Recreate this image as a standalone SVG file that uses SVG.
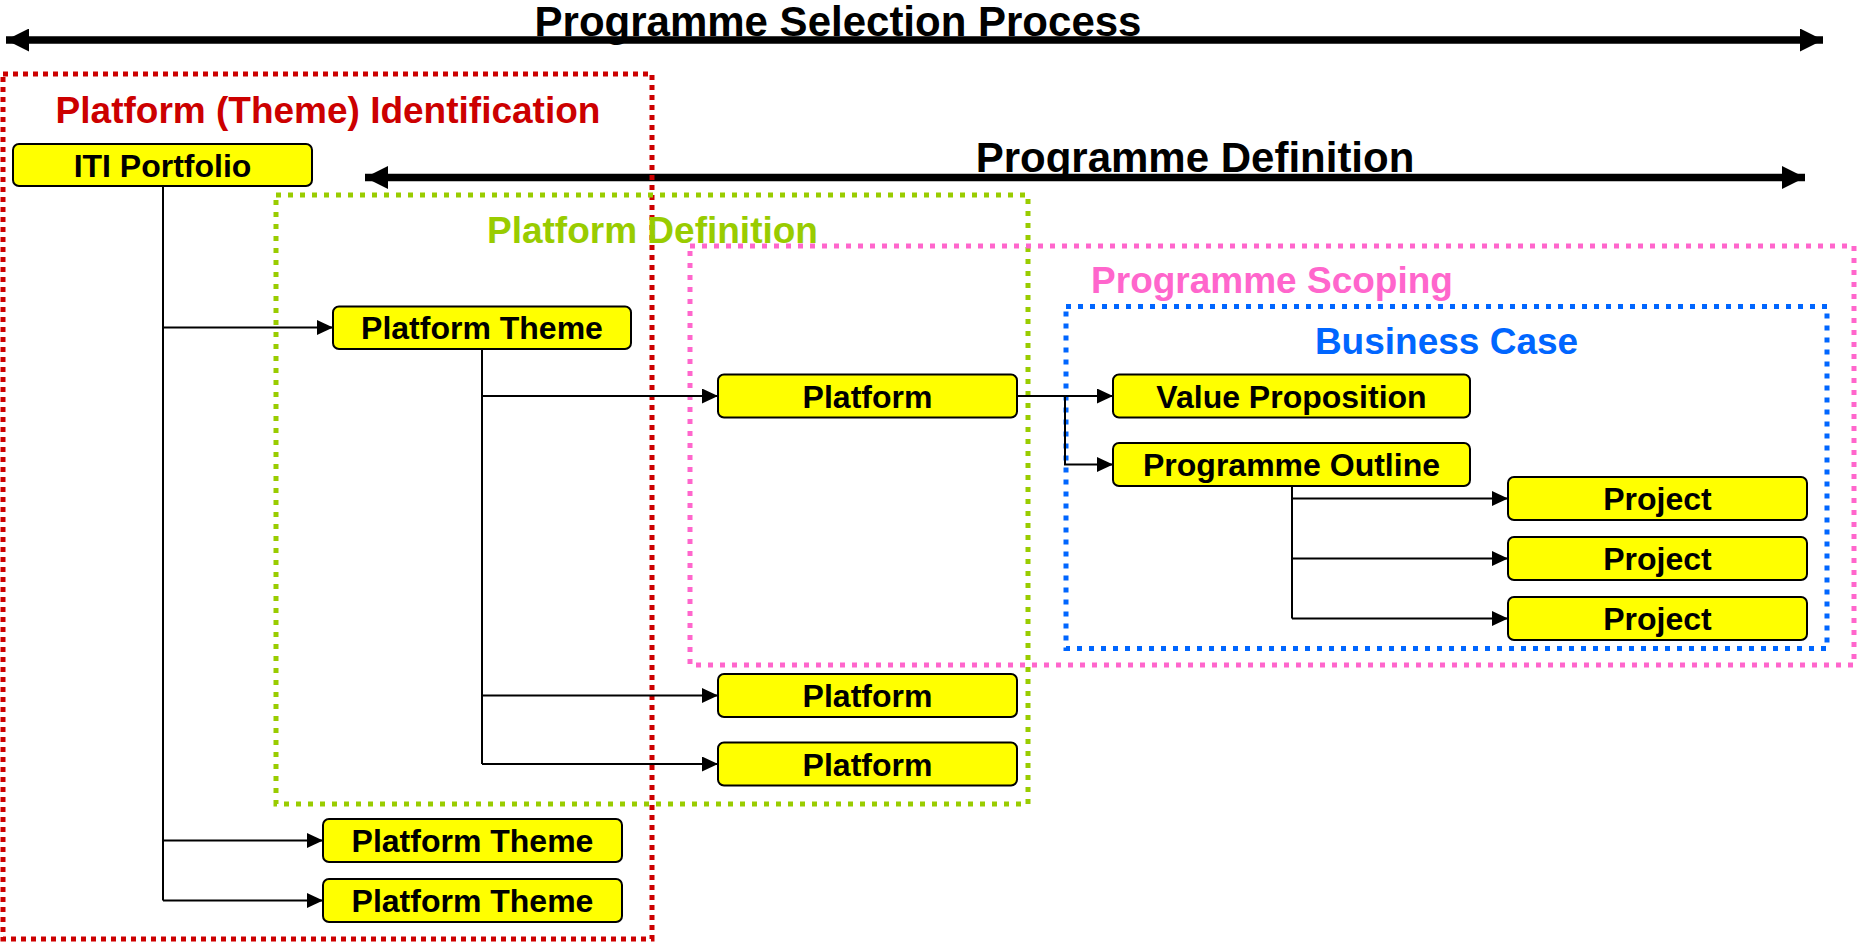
<svg xmlns="http://www.w3.org/2000/svg" width="1858" height="945" viewBox="0 0 1858 945">
  <style>
    text { font-family: "Liberation Sans", Arial, sans-serif; font-weight: bold; }
    .phase { font-size: 42px; fill: #000000; text-anchor: middle; }
    .ctitle { font-size: 37px; text-anchor: middle; }
    .zone { fill: none; stroke-width: 5; }
    .node rect { fill: #FFFF00; stroke: #000000; stroke-width: 2; }
    .node text { font-size: 32px; fill: #000000; text-anchor: middle; }
    .link { fill: none; stroke: #000000; stroke-width: 2; }
    .span { stroke: #000000; stroke-width: 7.5; }
  </style>
  <defs>
    <marker id="tip" markerUnits="userSpaceOnUse" markerWidth="16" markerHeight="15" refX="16" refY="7.5" orient="auto">
      <path d="M0,0 L16,7.5 L0,15 Z" fill="#000000"/>
    </marker>
    <marker id="bigtip" markerUnits="userSpaceOnUse" markerWidth="23" markerHeight="23" refX="23" refY="11.5" orient="auto-start-reverse">
      <path d="M0,0 L23,11.5 L0,23 Z" fill="#000000"/>
    </marker>
  </defs>

  <!-- phase spans -->
  <g id="phase-spans">
    <line class="span" x1="6" y1="40" x2="1823" y2="40" marker-start="url(#bigtip)" marker-end="url(#bigtip)"/>
    <text class="phase" x="838" y="36">Programme Selection Process</text>
    <line class="span" x1="365" y1="177.5" x2="1805" y2="177.5" marker-start="url(#bigtip)" marker-end="url(#bigtip)"/>
    <text class="phase" x="1195" y="172">Programme Definition</text>
  </g>

  <!-- stage boundaries -->
  <g id="zones">
    <rect id="zone-identification" class="zone" x="3" y="74" width="649" height="865" stroke="#CC0000" stroke-dasharray="5 5"/>
    <rect id="zone-definition" class="zone" x="276" y="195" width="752" height="609" stroke="#99CC00" stroke-dasharray="5 7"/>
    <rect id="zone-scoping" class="zone" x="690" y="246" width="1164" height="419" stroke="#FF66CC" stroke-dasharray="5 7"/>
    <rect id="zone-business" class="zone" x="1066" y="306.5" width="761" height="342" stroke="#0066FF" stroke-dasharray="5 7"/>
  </g>

  <!-- connectors -->
  <g id="connectors">
    <path class="link" d="M163,186 V900.5"/>
    <path class="link" d="M163,327.5 H333" marker-end="url(#tip)"/>
    <path class="link" d="M163,840.5 H323" marker-end="url(#tip)"/>
    <path class="link" d="M163,900.5 H323" marker-end="url(#tip)"/>

    <path class="link" d="M482,349 V764"/>
    <path class="link" d="M482,396 H718" marker-end="url(#tip)"/>
    <path class="link" d="M482,695.5 H718" marker-end="url(#tip)"/>
    <path class="link" d="M482,764 H718" marker-end="url(#tip)"/>

    <path class="link" d="M1017,396 H1113" marker-end="url(#tip)"/>
    <path class="link" d="M1065,396 V464.5 H1113" marker-end="url(#tip)"/>

    <path class="link" d="M1292,486 V618.5"/>
    <path class="link" d="M1292,498.5 H1508" marker-end="url(#tip)"/>
    <path class="link" d="M1292,558.5 H1508" marker-end="url(#tip)"/>
    <path class="link" d="M1292,618.5 H1508" marker-end="url(#tip)"/>
  </g>

  <!-- nodes -->
  <g id="iti-portfolio" class="node">
    <rect x="13" y="144" width="299" height="42" rx="6"/>
    <text x="162.5" y="176.5">ITI Portfolio</text>
  </g>
  <g id="platform-theme-1" class="node">
    <rect x="333" y="306.5" width="298" height="42.5" rx="6"/>
    <text x="482" y="339">Platform Theme</text>
  </g>
  <g id="platform-theme-2" class="node">
    <rect x="323" y="819" width="299" height="43" rx="6"/>
    <text x="472.5" y="852">Platform Theme</text>
  </g>
  <g id="platform-theme-3" class="node">
    <rect x="323" y="879" width="299" height="43" rx="6"/>
    <text x="472.5" y="912">Platform Theme</text>
  </g>
  <g id="platform-1" class="node">
    <rect x="718" y="374.5" width="299" height="43" rx="6"/>
    <text x="867.5" y="407.5">Platform</text>
  </g>
  <g id="platform-2" class="node">
    <rect x="718" y="674" width="299" height="43" rx="6"/>
    <text x="867.5" y="707">Platform</text>
  </g>
  <g id="platform-3" class="node">
    <rect x="718" y="742.5" width="299" height="43" rx="6"/>
    <text x="867.5" y="775.5">Platform</text>
  </g>
  <g id="value-proposition" class="node">
    <rect x="1113" y="374.5" width="357" height="43" rx="6"/>
    <text x="1291.5" y="407.5">Value Proposition</text>
  </g>
  <g id="programme-outline" class="node">
    <rect x="1113" y="443" width="357" height="43" rx="6"/>
    <text x="1291.5" y="476">Programme Outline</text>
  </g>
  <g id="project-1" class="node">
    <rect x="1508" y="477" width="299" height="43" rx="6"/>
    <text x="1657.5" y="510">Project</text>
  </g>
  <g id="project-2" class="node">
    <rect x="1508" y="537" width="299" height="43" rx="6"/>
    <text x="1657.5" y="570">Project</text>
  </g>
  <g id="project-3" class="node">
    <rect x="1508" y="597" width="299" height="43" rx="6"/>
    <text x="1657.5" y="630">Project</text>
  </g>

  <!-- stage titles -->
  <g id="zone-titles">
    <text class="ctitle" x="328" y="123" fill="#CC0000">Platform (Theme) Identification</text>
    <text class="ctitle" x="652.5" y="243" fill="#99CC00">Platform Definition</text>
    <text class="ctitle" x="1272" y="293" fill="#FF66CC">Programme Scoping</text>
    <text class="ctitle" x="1446.5" y="354" fill="#0066FF">Business Case</text>
  </g>
</svg>
